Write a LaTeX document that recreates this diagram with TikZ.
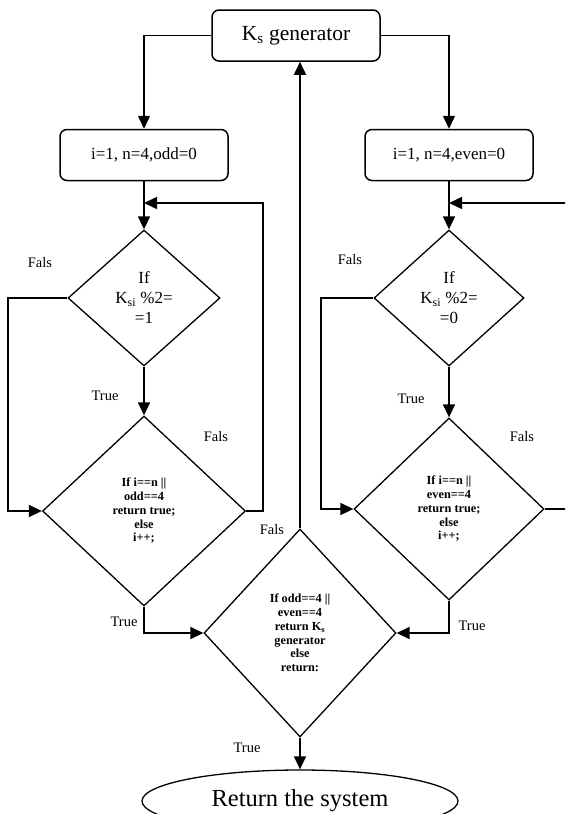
\documentclass[tikz,border=0pt]{standalone}
\usepackage{fontspec}
\setmainfont{Liberation Serif}
\usetikzlibrary{arrows.meta,shapes.geometric}

\begin{document}
\begin{tikzpicture}[x=1pt,y=-1pt,
  box/.style={draw,line width=1.5pt,rounded corners=7pt,minimum width=168pt,minimum height=51pt,inner sep=0pt},
  dia/.style={draw,diamond,line width=1.3pt,inner sep=0pt,align=center},
  flow/.style={line width=1.5pt,-{Triangle[length=13pt,width=12pt]}},
  lab/.style={font=\fontsize{14.5}{16}\selectfont,inner sep=0pt},
  cond/.style={font=\fontsize{17}{20}\selectfont},
  code/.style={font=\fontsize{12.3}{13.8}\selectfont\bfseries}]
  \clip (0,0) rectangle (565,814);
  % top box and the two start boxes
  \node[box,font=\fontsize{21.5}{24}\selectfont] (gen) at (296,35.5) {K\textsubscript{s} generator};
  \node[box,font=\fontsize{17}{20}\selectfont] (lbox) at (144,155) {i=1, n=4,odd=0};
  \node[box,font=\fontsize{17}{20}\selectfont] (rbox) at (449,155) {i=1, n=4,even=0};
  % left branch (odd)
  \node[dia,cond,minimum width=152pt,minimum height=136pt] (ld1) at (144,298) {If\\K\textsubscript{si} \%2=\\=1};
  \node[dia,code,minimum width=203pt,minimum height=190pt] (ld2) at (144,511) {If i==n ||\\odd==4\\return true;\\else\\i++;};
  % right branch (even)
  \node[dia,cond,minimum width=150pt,minimum height=136pt] (rd1) at (449,298) {If\\K\textsubscript{si} \%2=\\=0};
  \node[dia,code,minimum width=190pt,minimum height=182pt] (rd2) at (449,509) {If i==n ||\\even==4\\return true;\\else\\i++;};
  % merge and end
  \node[dia,code,minimum width=192pt,minimum height=208pt] (md) at (300,633) {If odd==4 ||\\even==4\\return K\textsubscript{s}\\generator\\else\\return:};
  \node[draw,ellipse,line width=1.3pt,minimum width=316pt,minimum height=62pt,font=\fontsize{24.5}{28}\selectfont] (ret) at (300,801) {Return the system};
  % loop corners
  \coordinate (lfx) at (8,0);
  \coordinate (lloop) at (263,203);
  \coordinate (rfx) at (321,0);
  \coordinate (rloop) at (575,203);
  % connectors
  \draw[flow] (gen.west) -| (lbox.north);
  \draw[flow] (gen.east) -| (rbox.north);
  \draw[flow] (lbox) -- (ld1);
  \draw[flow] (rbox) -- (rd1);
  \draw[flow] (ld1) -- (ld2);
  \draw[flow] (rd1) -- (rd2);
  \draw[flow] (ld1.west) -- (ld1.west -| lfx) -- (ld2.west -| lfx) -- (ld2.west);
  \draw[flow] (rd1.west) -- (rd1.west -| rfx) -- (rd2.west -| rfx) -- (rd2.west);
  \draw[flow] (ld2.east) -| (lloop) -- (lloop -| lbox.south);
  \draw[flow] (rd2.east) -| (rloop) -- (rloop -| rbox.south);
  \draw[flow] (ld2.south) |- (md.west);
  \draw[flow] (rd2.south) |- (md.east);
  \draw[flow] (md.north) -- (md.north |- gen.south);
  \draw[flow] (md) -- (ret);
  % labels
  \node[lab] (lf1) at (40,263) {Fals};
  \node[lab] (lt1) at (105,396) {True};
  \node[lab] (lf2) at (216,437) {Fals};
  \node[lab] (lt2) at (124,622) {True};
  \node[lab] (rf1) at (350,260) {Fals};
  \node[lab] (rt1) at (411,399) {True};
  \node[lab] (rf2) at (522,437) {Fals};
  \node[lab] (rt2) at (472,626) {True};
  \node[lab] (mf) at (272,530) {Fals};
  \node[lab] (mt) at (247,748) {True};
\end{tikzpicture}
\end{document}
